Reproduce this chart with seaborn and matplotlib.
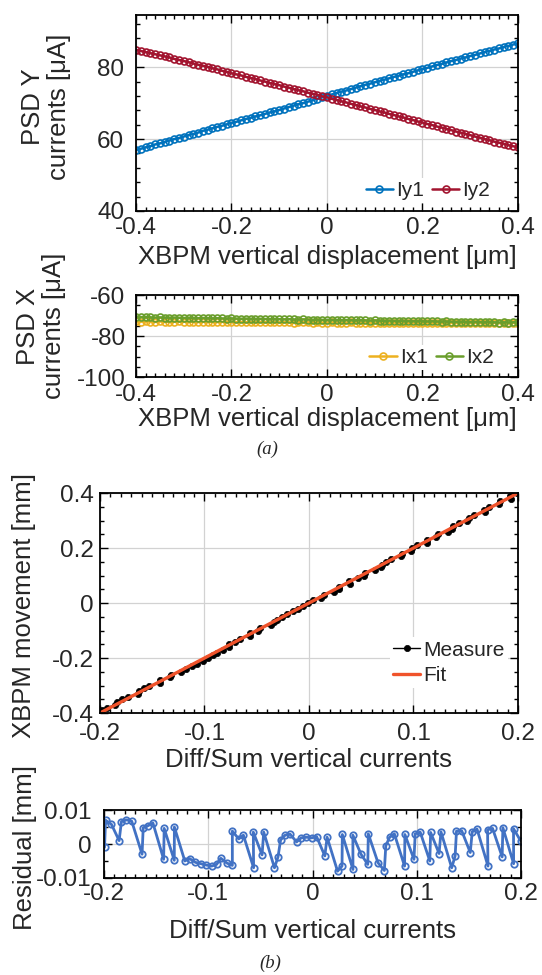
import matplotlib
matplotlib.use("Agg")
import matplotlib.pyplot as plt
import seaborn as sns
from matplotlib.ticker import MultipleLocator

# ---------------- data ----------------
DISP_UM = [-0.40, -0.39, -0.38, -0.37, -0.36, -0.35, -0.34, -0.33, -0.32, -0.31,
           -0.30, -0.29, -0.28, -0.27, -0.26, -0.25, -0.24, -0.23, -0.22, -0.21,
           -0.20, -0.19, -0.18, -0.17, -0.16, -0.15, -0.14, -0.13, -0.12, -0.11,
           -0.10, -0.09, -0.08, -0.07, -0.06, -0.05, -0.04, -0.03, -0.02, -0.01,
           0.00, 0.01, 0.02, 0.03, 0.04, 0.05, 0.06, 0.07, 0.08, 0.09,
           0.10, 0.11, 0.12, 0.13, 0.14, 0.15, 0.16, 0.17, 0.18, 0.19,
           0.20, 0.21, 0.22, 0.23, 0.24, 0.25, 0.26, 0.27, 0.28, 0.29,
           0.30, 0.31, 0.32, 0.33, 0.34, 0.35, 0.36, 0.37, 0.38, 0.39,
           0.40]

IY1 = [57.0, 57.3, 57.7, 58.0, 58.5, 58.8, 59.2, 59.6, 60.0, 60.3,
       60.7, 61.1, 61.4, 61.8, 62.3, 62.6, 63.0, 63.4, 63.7, 64.1,
       64.5, 64.8, 65.2, 65.6, 65.9, 66.3, 66.6, 67.0, 67.4, 67.7,
       68.1, 68.5, 68.9, 69.3, 69.7, 70.0, 70.4, 70.8, 71.2, 71.6,
       72.0, 72.4, 72.8, 73.2, 73.5, 73.9, 74.3, 74.7, 75.1, 75.4,
       75.8, 76.2, 76.5, 76.9, 77.3, 77.6, 78.0, 78.3, 78.7, 79.1,
       79.5, 79.8, 80.2, 80.6, 80.9, 81.3, 81.7, 82.0, 82.4, 82.7,
       83.1, 83.4, 83.8, 84.2, 84.5, 84.9, 85.2, 85.6, 85.9, 86.3,
       86.6]

IY2 = [84.8, 84.5, 84.2, 83.9, 83.6, 83.3, 83.0, 82.7, 82.3, 82.0,
       81.7, 81.4, 81.0, 80.7, 80.4, 80.1, 79.7, 79.4, 79.0, 78.7,
       78.3, 78.0, 77.7, 77.3, 77.0, 76.7, 76.3, 76.0, 75.6, 75.3,
       75.0, 74.6, 74.3, 73.9, 73.6, 73.3, 72.9, 72.6, 72.3, 71.9,
       71.6, 71.2, 70.9, 70.5, 70.2, 69.8, 69.5, 69.1, 68.8, 68.4,
       68.1, 67.7, 67.4, 67.0, 66.7, 66.3, 66.0, 65.6, 65.3, 64.9,
       64.6, 64.2, 63.9, 63.5, 63.2, 62.8, 62.5, 62.1, 61.8, 61.4,
       61.1, 60.7, 60.4, 60.0, 59.7, 59.3, 59.0, 58.7, 58.3, 58.0,
       57.7]

IX1 = [-72.9, -73.0, -72.8, -73.0, -73.1, -72.9, -73.0, -73.1, -73.0, -72.9,
       -73.0, -73.1, -73.0, -73.2, -73.1, -73.0, -73.1, -73.2, -73.1, -73.0,
       -73.1, -73.2, -73.1, -73.2, -73.3, -73.2, -73.1, -73.2, -73.3, -73.2,
       -73.3, -73.2, -73.3, -73.4, -73.3, -73.2, -73.3, -73.4, -73.3, -73.4,
       -73.4, -73.3, -73.4, -73.5, -73.4, -73.3, -73.4, -73.5, -73.4, -73.5,
       -73.5, -73.4, -73.5, -73.6, -73.5, -73.4, -73.5, -73.6, -73.5, -73.6,
       -73.6, -73.5, -73.6, -73.7, -73.6, -73.5, -73.6, -73.7, -73.6, -73.7,
       -73.7, -73.6, -73.7, -73.8, -73.7, -73.6, -73.7, -73.8, -73.7, -73.6,
       -73.5]

IX2 = [-70.6, -70.8, -70.7, -70.9, -71.0, -70.9, -71.0, -71.1, -71.0, -71.1,
       -71.2, -71.1, -71.2, -71.3, -71.2, -71.3, -71.4, -71.3, -71.4, -71.5,
       -71.4, -71.5, -71.6, -71.5, -71.6, -71.7, -71.6, -71.7, -71.8, -71.7,
       -71.8, -71.9, -71.8, -71.9, -72.0, -71.9, -72.0, -72.1, -72.0, -72.1,
       -72.2, -72.1, -72.2, -72.3, -72.2, -72.3, -72.4, -72.3, -72.4, -72.5,
       -72.4, -72.5, -72.6, -72.5, -72.6, -72.7, -72.6, -72.7, -72.8, -72.7,
       -72.8, -72.9, -72.8, -72.9, -73.0, -72.9, -73.0, -73.1, -73.0, -73.1,
       -73.2, -73.1, -73.2, -73.3, -73.2, -73.3, -73.4, -73.3, -73.4, -73.3,
       -73.2]

MOVE_MM = [-0.40, -0.39, -0.38, -0.37, -0.36, -0.35, -0.34, -0.33, -0.32, -0.31,
           -0.30, -0.29, -0.28, -0.27, -0.26, -0.25, -0.24, -0.23, -0.22, -0.21,
           -0.20, -0.19, -0.18, -0.17, -0.16, -0.15, -0.14, -0.13, -0.12, -0.11,
           -0.10, -0.09, -0.08, -0.07, -0.06, -0.05, -0.04, -0.03, -0.02, -0.01,
           0.00, 0.01, 0.02, 0.03, 0.04, 0.05, 0.06, 0.07, 0.08, 0.09,
           0.10, 0.11, 0.12, 0.13, 0.14, 0.15, 0.16, 0.17, 0.18, 0.19,
           0.20, 0.21, 0.22, 0.23, 0.24, 0.25, 0.26, 0.27, 0.28, 0.29,
           0.30, 0.31, 0.32, 0.33, 0.34, 0.35, 0.36, 0.37, 0.38, 0.39,
           0.40]

DIFF_SUM = [-0.1995, -0.1985, -0.1929, -0.1855, -0.1833, -0.1786, -0.1734, -0.1635, -0.1624, -0.1577,
            -0.1531, -0.1428, -0.1423, -0.1326, -0.1325, -0.1225, -0.1179, -0.1123, -0.1071, -0.1019,
            -0.0968, -0.0920, -0.0879, -0.0822, -0.0769, -0.0769, -0.0708, -0.0663, -0.0565, -0.0568,
            -0.0484, -0.0468, -0.0365, -0.0331, -0.0306, -0.0263, -0.0215, -0.0153, -0.0109, -0.0060,
            -0.0009, 0.0039, 0.0118, 0.0140, 0.0240, 0.0283, 0.0286, 0.0388, 0.0387, 0.0465,
            0.0530, 0.0535, 0.0628, 0.0689, 0.0703, 0.0740, 0.0785, 0.0883, 0.0886, 0.0973,
            0.0985, 0.1033, 0.1125, 0.1133, 0.1214, 0.1232, 0.1335, 0.1368, 0.1381, 0.1431,
            0.1513, 0.1532, 0.1578, 0.1683, 0.1679, 0.1727, 0.1819, 0.1826, 0.1929, 0.1928,
            0.1995]

RESID_MM = [-0.0010, 0.0070, 0.0058, 0.0010, 0.0066, 0.0071, 0.0067, -0.0030, 0.0048, 0.0054,
            0.0062, -0.0045, 0.0046, -0.0048, 0.0050, -0.0050, -0.0043, -0.0054, -0.0058, -0.0062,
            -0.0065, -0.0060, -0.0042, -0.0056, -0.0063, 0.0038, 0.0015, 0.0026, -0.0070, 0.0035,
            -0.0032, 0.0035, -0.0070, -0.0038, 0.0012, 0.0026, 0.0029, 0.0006, 0.0018, 0.0020,
            0.0018, 0.0022, -0.0035, 0.0020, -0.0080, -0.0065, 0.0028, -0.0075, 0.0026, -0.0030,
            -0.0060, 0.0030, -0.0055, -0.0078, -0.0005, 0.0020, 0.0030, -0.0065, 0.0028, -0.0045,
            0.0030, 0.0035, -0.0050, 0.0034, -0.0028, 0.0036, -0.0070, -0.0035, 0.0038, 0.0039,
            -0.0025, 0.0036, 0.0044, -0.0065, 0.0042, 0.0046, -0.0038, 0.0048, -0.0058, 0.0045,
            0.0010]

FIT_X = [-0.2, 0.2]
FIT_Y = [-0.4, 0.4]

# tick values / labels
XT_A = [-0.4, -0.2, 0, 0.2, 0.4]
XT_A_LAB = ["-0.4", "-0.2", "0", "0.2", "0.4"]
YT_1 = [40, 60, 80]
YT_1_LAB = ["40", "60", "80"]
YT_2 = [-100, -80, -60]
YT_2_LAB = ["-100", "-80", "-60"]
XT_B = [-0.2, -0.1, 0, 0.1, 0.2]
XT_B_LAB = ["-0.2", "-0.1", "0", "0.1", "0.2"]
YT_3 = [-0.4, -0.2, 0, 0.2, 0.4]
YT_3_LAB = ["-0.4", "-0.2", "0", "0.2", "0.4"]
YT_4 = [-0.01, 0, 0.01]
YT_4_LAB = ["-0.01", "0", "0.01"]

# ---------------- style ----------------
sns.set_style("ticks")
plt.rcParams["font.family"] = ["Liberation Sans", "DejaVu Sans"]
plt.rcParams["axes.unicode_minus"] = False

C_IY1 = "#0072BD"
C_IY2 = "#A2142F"
C_IX1 = "#EDB120"
C_IX2 = "#6A9E2C"
C_RES = "#4272C4"
C_FIT = "#F0532B"
GRID_C = "#d2d2d2"

TICK_FS = 17.5
LAB_FS = 18.5
LEG_FS = 15

fig = plt.figure(figsize=(5.42, 9.75), dpi=100)
ax1 = fig.add_axes([0.2509, 0.7836, 0.7048, 0.2010])
ax2 = fig.add_axes([0.2509, 0.6133, 0.7048, 0.0841])
ax3 = fig.add_axes([0.1845, 0.2687, 0.7712, 0.2256])
ax4 = fig.add_axes([0.1919, 0.0995, 0.7694, 0.0697])


def style_axes(ax, xmin_step, ymin_step, xpad, ypad):
    ax.grid(True, which="major", color=GRID_C, linewidth=0.9)
    ax.set_axisbelow(True)
    ax.xaxis.set_minor_locator(MultipleLocator(xmin_step))
    ax.yaxis.set_minor_locator(MultipleLocator(ymin_step))
    ax.tick_params(which="both", direction="in", top=True, right=True,
                   color="black", width=1.0)
    ax.tick_params(which="major", length=6, labelsize=TICK_FS)
    ax.tick_params(which="minor", length=3)
    ax.tick_params(axis="x", which="major", pad=xpad)
    ax.tick_params(axis="y", which="major", pad=ypad)
    for s in ax.spines.values():
        s.set_color("black")
        s.set_linewidth(1.3)


def mline(ax, x, y, color, label, ms=5.0, lw=1.8, mew=1.2, mfc="none"):
    sns.lineplot(x=x, y=y, ax=ax, color=color, marker="o", markersize=ms,
                 markerfacecolor=mfc, markeredgecolor=color, markeredgewidth=mew,
                 linewidth=lw, label=label, estimator=None, sort=False)


LEG_KW = dict(fontsize=LEG_FS, frameon=True, facecolor="white", edgecolor="none",
              framealpha=1, handlelength=1.3, handletextpad=0.15, borderpad=0.15,
              borderaxespad=0.0)

# ---- panel 1 ----
mline(ax1, DISP_UM, IY1, C_IY1, "Iy1")
mline(ax1, DISP_UM, IY2, C_IY2, "Iy2")
ax1.set_xlim(-0.4, 0.4)
ax1.set_ylim(40, 94.5)
ax1.set_xticks(XT_A, XT_A_LAB)
ax1.set_yticks(YT_1, YT_1_LAB)
style_axes(ax1, 0.02, 4, xpad=4, ypad=8.5)
ax1.set_xlabel("XBPM vertical displacement [μm]", fontsize=LAB_FS, labelpad=4.5)
ax1.set_ylabel("PSD Y\ncurrents [μA]", fontsize=LAB_FS, va="center", linespacing=1.1)
ax1.yaxis.set_label_coords(-0.236, 0.53)
ax1.legend(loc="lower right", bbox_to_anchor=(0.935, 0.04), ncol=2,
           columnspacing=0.4, **LEG_KW)

# ---- panel 2 ----
mline(ax2, DISP_UM, IX1, C_IX1, "Ix1")
mline(ax2, DISP_UM, IX2, C_IX2, "Ix2")
ax2.set_xlim(-0.4, 0.4)
ax2.set_ylim(-100, -60)
ax2.set_xticks(XT_A, XT_A_LAB)
ax2.set_yticks(YT_2, YT_2_LAB)
style_axes(ax2, 0.02, 5, xpad=5, ypad=7.5)
ax2.set_xlabel("XBPM vertical displacement [μm]", fontsize=LAB_FS, labelpad=0.5)
ax2.set_ylabel("PSD X\ncurrents [μA]", fontsize=LAB_FS, va="center", linespacing=1.1)
ax2.yaxis.set_label_coords(-0.249, 0.62)
ax2.legend(loc="lower right", bbox_to_anchor=(0.945, 0.085), ncol=2,
           columnspacing=0.4, **LEG_KW)

# ---- panel 3 ----
mline(ax3, DIFF_SUM, MOVE_MM, "black", "Measure", ms=4.5, lw=1.0, mew=0.5, mfc="black")
sns.lineplot(x=FIT_X, y=FIT_Y, ax=ax3, color=C_FIT, linewidth=2.4, label="Fit",
             estimator=None, sort=False)
ax3.set_xlim(-0.2, 0.2)
ax3.set_ylim(-0.4, 0.4)
ax3.set_xticks(XT_B, XT_B_LAB)
ax3.set_yticks(YT_3, YT_3_LAB)
style_axes(ax3, 0.01, 0.05, xpad=7, ypad=4.5)
ax3.set_xlabel("Diff/Sum vertical currents", fontsize=LAB_FS, labelpad=2)
ax3.set_ylabel("XBPM movement [mm]", fontsize=LAB_FS, va="center")
ax3.yaxis.set_label_coords(-0.182, 0.49)
ax3.legend(loc="lower right", bbox_to_anchor=(0.976, 0.114), ncol=1,
           labelspacing=0.3, **LEG_KW)

# ---- panel 4 ----
mline(ax4, DIFF_SUM, RESID_MM, C_RES, None, ms=4.6, lw=2.0, mew=1.3)
ax4.set_xlim(-0.2, 0.2)
ax4.set_ylim(-0.01, 0.01)
ax4.set_xticks(XT_B, XT_B_LAB)
ax4.set_yticks(YT_4, YT_4_LAB)
style_axes(ax4, 0.01, 0.005, xpad=3.5, ypad=9)
ax4.set_xlabel("Diff/Sum vertical currents", fontsize=LAB_FS, labelpad=10)
ax4.set_ylabel("Residual [mm]", fontsize=LAB_FS, va="center")
ax4.yaxis.set_label_coords(-0.189, 0.45)
if ax4.get_legend() is not None:
    ax4.get_legend().remove()

fig.text(0.493, 0.539, "(a)", ha="center", va="center", fontsize=13.5,
         family=["Liberation Serif", "DejaVu Serif"], style="italic")
fig.text(0.498, 0.012, "(b)", ha="center", va="center", fontsize=13.5,
         family=["Liberation Serif", "DejaVu Serif"], style="italic")

fig.savefig("out.png", dpi=100)
